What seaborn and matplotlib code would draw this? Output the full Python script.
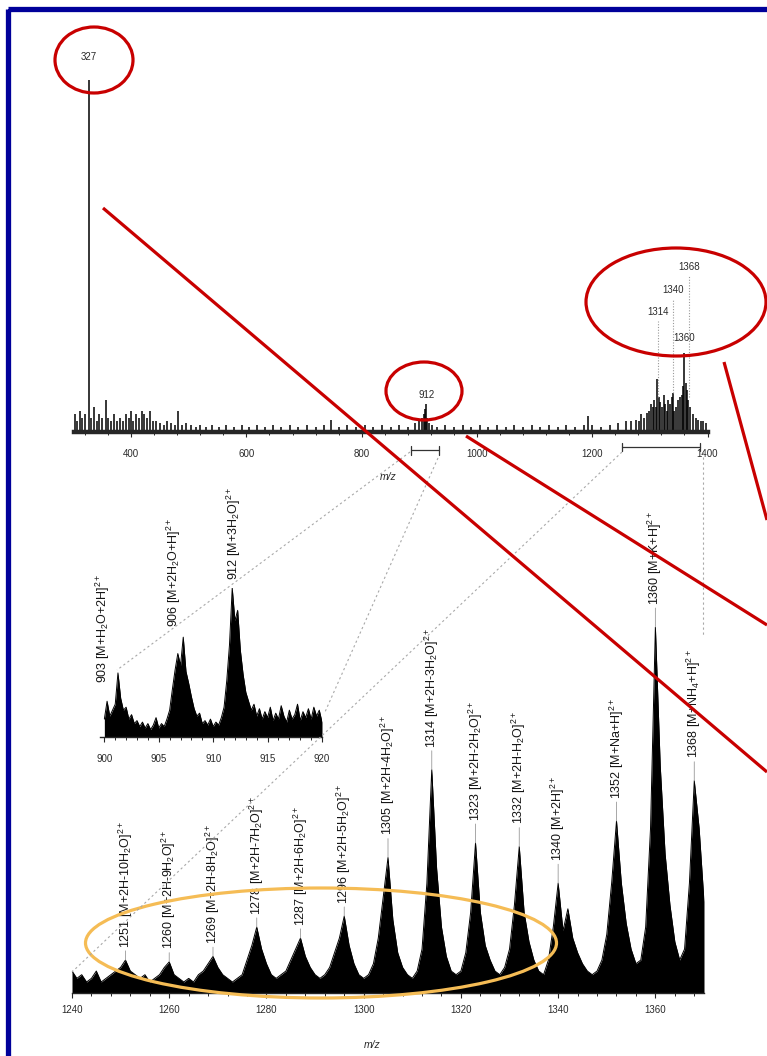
import numpy as np
import matplotlib
matplotlib.use("Agg")
import matplotlib.pyplot as plt
import seaborn as sns
from matplotlib.patches import Ellipse, Rectangle
from matplotlib.ticker import MultipleLocator

# ---------------- data ----------------
# full-range spectrum (stick peaks, relative intensity %, 327 = 100)
top_mz = [302, 306, 311, 315, 320, 327, 331, 336, 341, 345, 350, 356, 360, 365, 370,
          375, 380, 386, 391, 396, 400, 404, 409, 414, 418, 423, 428, 433, 438, 444,
          450, 457, 463, 470, 476, 482, 488, 495,
          503, 512, 520, 530, 541, 552, 565, 578, 592, 605, 618, 632, 646, 660, 675,
          690, 705, 720, 734, 746, 760, 775, 790, 805, 820, 835, 850, 865, 880, 893,
          900, 905, 908, 910, 912, 914, 917, 922, 930, 945, 960, 975, 990, 1005, 1020,
          1035, 1050, 1065, 1080, 1095, 1110, 1125, 1140, 1155, 1170, 1185, 1193, 1200,
          1215, 1230, 1245, 1258,
          1268, 1276, 1281, 1285, 1290, 1295, 1299, 1302, 1305, 1307, 1310, 1313, 1316,
          1318, 1321, 1324, 1327, 1329, 1332, 1335, 1338, 1340, 1342, 1345, 1349, 1352,
          1355, 1358, 1360, 1362, 1365, 1367, 1370, 1375, 1380, 1384, 1388, 1393, 1397]
top_int = [5, 3, 6, 4, 5, 100, 4, 7, 3, 5, 4, 9, 4, 3, 5,
           3, 4, 3, 5, 4, 6, 3, 5, 4, 6, 5, 4, 6, 3, 3,
           2.5, 2, 3, 2.5, 2, 6, 2, 2.5,
           2, 1.5, 2, 1.5, 2, 1.5, 2, 1.5, 2, 1.5, 2, 1.5, 2, 1.5, 2,
           1.5, 2, 1.5, 2, 3.5, 1.5, 2, 1.5, 2, 1.5, 2, 1.5, 2, 1.5, 2.5,
           3, 4, 5, 6.5, 8, 4, 2.5, 2, 1.5, 2, 1.5, 2, 1.5, 2, 1.5,
           2, 1.5, 2, 1.5, 2, 1.5, 2, 1.5, 2, 1.5, 2, 4.5, 2,
           1.5, 2, 2.5, 3,
           3, 3.5, 3, 5, 4, 5.5, 6, 8, 7, 9, 7, 15, 10,
           8.5, 7, 10.5, 8, 6, 9, 8, 10, 11, 6, 7, 9, 10,
           10.5, 13, 22.5, 14, 12, 9, 7, 5, 4, 3.5, 3, 3, 2.5]
top_labels = ["327", "912", "1314", "1340", "1368", "1360"]
top_label_mz = [327, 912, 1314, 1340, 1368, 1360]

# zoom 900-920 (profile every 0.25 m/z, 912 peak = 100)
inset_start, inset_step = 900.0, 0.25
inset_int = [12, 24, 14, 18, 22, 43, 26, 18, 20, 12,
             15, 9, 11, 7, 10, 6, 9, 5, 8, 13,
             6, 9, 7, 12, 18, 32, 45, 56, 48, 67,
             44, 36, 27, 19, 14, 16, 9, 11, 8, 12,
             7, 10, 8, 13, 20, 38, 62, 100, 78, 85,
             58, 42, 30, 24, 18, 22, 14, 19, 12, 17,
             13, 20, 11, 16, 12, 21, 14, 10, 18, 12,
             15, 22, 11, 17, 13, 19, 12, 20, 14, 18, 10]
inset_peak_mz = [901.25, 907.25, 911.75]
inset_labels = [r"903 [M+H$_2$O+2H]$^{2+}$",
                r"906 [M+2H$_2$O+H]$^{2+}$",
                r"912 [M+3H$_2$O]$^{2+}$"]

# zoom 1240-1370 (profile every 1 m/z, 1360 peak = 100)
bottom_start = 1240
bottom_int = [6, 4, 5, 3, 4, 6, 3, 4, 5, 6,
              7, 9, 6, 5, 4, 5, 3, 4, 5, 7,
              8.5, 5, 4, 3, 4, 3, 5, 6, 8, 10,
              7, 5, 4, 3, 4, 5, 9, 13, 18, 12,
              8, 5, 4, 5, 6, 9, 12, 15, 10, 7,
              5, 4, 5, 7, 11, 15, 21, 13, 8, 5,
              4, 5, 8, 15, 26, 37, 20, 11, 7, 5,
              4, 6, 12, 30, 61, 34, 18, 10, 6, 5,
              6, 11, 22, 41, 22, 13, 9, 6, 5, 7,
              12, 24, 40, 22, 14, 9, 6, 5, 9, 18,
              30, 17, 23, 15, 11, 8, 6, 5, 6, 9,
              16, 30, 47, 30, 19, 12, 8, 9, 18, 45,
              100, 62, 38, 24, 14, 9, 12, 30, 58, 45,
              25]
bottom_label_mz = [1251, 1260, 1269, 1278, 1287, 1296, 1305, 1314, 1323, 1332,
                   1340, 1352, 1360, 1368]
bottom_labels = [r"1251 [M+2H-10H$_2$O]$^{2+}$", r"1260 [M+2H-9H$_2$O]$^{2+}$",
                 r"1269 [M+2H-8H$_2$O]$^{2+}$", r"1278 [M+2H-7H$_2$O]$^{2+}$",
                 r"1287 [M+2H-6H$_2$O]$^{2+}$", r"1296 [M+2H-5H$_2$O]$^{2+}$",
                 r"1305 [M+2H-4H$_2$O]$^{2+}$", r"1314 [M+2H-3H$_2$O]$^{2+}$",
                 r"1323 [M+2H-2H$_2$O]$^{2+}$", r"1332 [M+2H-H$_2$O]$^{2+}$",
                 r"1340 [M+2H]$^{2+}$", r"1352 [M+Na+H]$^{2+}$",
                 r"1360 [M+K+H]$^{2+}$", r"1368 [M+NH$_4$+H]$^{2+}$"]

# zoom ranges marked under the full spectrum
zoom_ranges = [(885, 935), (1252, 1387)]

# ---------------- style ----------------
sns.set_style("ticks")
plt.rcParams["font.family"] = ["Liberation Sans", "DejaVu Sans"]
plt.rcParams["mathtext.fontset"] = "custom"
plt.rcParams["mathtext.rm"] = "Liberation Sans"
plt.rcParams["mathtext.it"] = "Liberation Sans:italic"
plt.rcParams["mathtext.bf"] = "Liberation Sans:bold"

W, H = 767, 1056
LABEL_FS = 9
fig = plt.figure(figsize=(W / 100, H / 100), dpi=100)
fig.patch.set_facecolor("white")


def rect(x0, y0, x1, y1):
    """pixel box (origin top-left) -> figure fraction"""
    return [x0 / W, 1 - y1 / H, (x1 - x0) / W, (y1 - y0) / H]


def style_axis(ax, major, minor, pad, spine_lw=1.0):
    sns.despine(ax=ax, left=True, top=True, right=True)
    ax.set_yticks([])
    ax.set_ylabel("")
    ax.set_xlabel("")
    ax.spines["bottom"].set_linewidth(spine_lw)
    ax.xaxis.set_major_locator(MultipleLocator(major))
    ax.xaxis.set_minor_locator(MultipleLocator(minor))
    ax.tick_params(axis="x", which="major", direction="out", length=3.5, width=0.8,
                   pad=pad, labelsize=7, labelcolor="#2a2a2a")
    ax.tick_params(axis="x", which="minor", direction="out", length=2.5, width=0.7)
    ax.patch.set_alpha(0)


def peak_label(ax, lab, xy, off, line=True):
    props = None
    if line:
        props = dict(arrowstyle="-", color="0.6", lw=0.6, shrinkA=0, shrinkB=0,
                     relpos=(0.5, 0.0))
    ax.annotate(lab, xy=xy, xytext=off, textcoords="offset points", rotation=90,
                ha="center", va="bottom", fontsize=LABEL_FS, color="#151515",
                annotation_clip=False, arrowprops=props)


# ---------------- full spectrum ----------------
ax_top = fig.add_axes(rect(73.5, 80, 707.5, 432))
ax_top.vlines(top_mz, 0, top_int, color="black", lw=1.1)
ax_top.set_xlim(300, 1400)
ax_top.set_ylim(0, 100)
style_axis(ax_top, 200, 40, 9, spine_lw=3.2)

top_label_y = [106.5, 10.5, 34, 40.3, 46.9, 26.7]
dotted = [False, False, True, True, True, False]
peak_h = dict(zip(top_mz, top_int))
for mz, lab, ly, dot in zip(top_label_mz, top_labels, top_label_y, dotted):
    ax_top.text(mz, ly, lab, ha="center", va="center", fontsize=7,
                color="#2a2a2a", clip_on=False)
    if dot:
        ax_top.plot([mz, mz], [peak_h.get(mz, 10), ly - 2.5], ls=(0, (1, 1.5)),
                    color="0.6", lw=0.8)

trans = ax_top.get_xaxis_transform()
for (a, b), yy in zip(zoom_ranges, [-0.052, -0.043]):
    ax_top.plot([a, b], [yy, yy], color="#333", lw=0.9, transform=trans, clip_on=False)
    ax_top.plot([a, a], [yy - 0.012, yy + 0.012], color="#333", lw=0.9,
                transform=trans, clip_on=False)
    ax_top.plot([b, b], [yy - 0.012, yy + 0.012], color="#333", lw=0.9,
                transform=trans, clip_on=False)

# ---------------- zoom 900-920 ----------------
ax_in = fig.add_axes(rect(100, 588, 322, 737))
in_mz = inset_start + inset_step * np.arange(len(inset_int))
sns.lineplot(x=in_mz, y=inset_int, ax=ax_in, color="black", lw=0.7)
ax_in.fill_between(in_mz, inset_int, color="black", lw=0)
ax_in.set_xlim(899.6, 920)
ax_in.set_ylim(0, 100)
style_axis(ax_in, 5, 1, 9)
in_h = dict(zip(np.round(in_mz, 2), inset_int))
for mz, lab, off in zip(inset_peak_mz, inset_labels, [(-11, -7), (-7, 7), (1, 6)]):
    peak_label(ax_in, lab, (mz, in_h[mz]), off, line=False)

# ---------------- zoom 1240-1370 ----------------
ax_bot = fig.add_axes(rect(72, 627, 704, 993))
bot_mz = bottom_start + np.arange(len(bottom_int))
sns.lineplot(x=bot_mz, y=bottom_int, ax=ax_bot, color="black", lw=0.7)
ax_bot.fill_between(bot_mz, bottom_int, color="black", lw=0)
ax_bot.set_xlim(1240, 1370)
ax_bot.set_ylim(0, 100)
style_axis(ax_bot, 20, 4, 5)
for mz, lab in zip(bottom_label_mz, bottom_labels):
    h = bottom_int[mz - bottom_start]
    gap = 16 if h > 25 else 9
    peak_label(ax_bot, lab, (mz, h), (0, gap))

fig.text(388 / W, 1 - 477 / H, "m/z", ha="center", va="center", fontsize=7.5,
         style="italic", color="#2a2a2a")
fig.text(372 / W, 1 - 1045 / H, "m/z", ha="center", va="center", fontsize=7.5,
         style="italic", color="#2a2a2a")

# ---------------- overlay: guides, highlights, frame ----------------
ov = fig.add_axes([0, 0, 1, 1], zorder=10)
ov.set_xlim(0, W)
ov.set_ylim(H, 0)
ov.axis("off")
ov.patch.set_alpha(0)

guides = [((410, 452), (117, 670)), ((438, 458), (325, 712)),
          ((622, 452), (72, 972)), ((703, 452), (703, 635))]
for (x0, y0), (x1, y1) in guides:
    ov.plot([x0, x1], [y0, y1], color="#a8a8a8", lw=0.8, ls=(0, (2, 2.5)))

red = "#C80000"
for (x0, y0), (x1, y1) in [((103, 208), (767, 772)), ((466, 436), (767, 625)),
                           ((724, 362), (767, 520))]:
    ov.plot([x0, x1], [y0, y1], color=red, lw=2.3, solid_capstyle="butt")

for (cx, cy), w, h in [((94, 60), 78, 66), ((424, 391), 76, 58), ((676, 302), 180, 108)]:
    ov.add_patch(Ellipse((cx, cy), w, h, fill=False, ec=red, lw=2.3))
ov.add_patch(Ellipse((321, 943), 471, 110, fill=False, ec="#F5BC55", lw=2.3))

ov.add_patch(Rectangle((7.5, 8.5), 900, 1200, fill=False, ec="#00009A", lw=3.8))

fig.savefig("out.png", dpi=100)
